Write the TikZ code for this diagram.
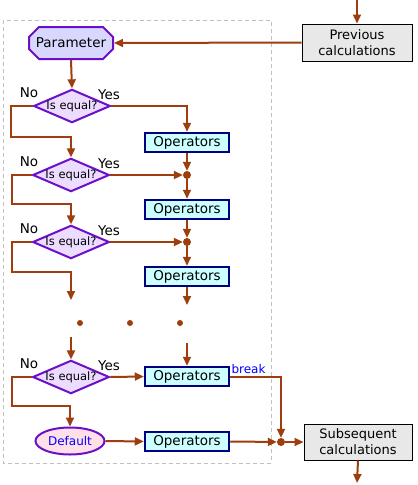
\documentclass[tikz,border=0pt]{standalone}
\usepackage{fontspec}
\setmainfont{DejaVu Sans}
\usetikzlibrary{arrows.meta,shapes.geometric,shapes.misc}
\definecolor{arrc}{RGB}{158,62,14}
\definecolor{purp}{RGB}{108,16,200}
\definecolor{parfill}{RGB}{216,216,255}
\definecolor{diafill}{RGB}{236,220,255}
\definecolor{deffill}{RGB}{255,224,232}
\definecolor{opfill}{RGB}{204,255,255}
\definecolor{opdraw}{RGB}{0,0,128}
\definecolor{calcfill}{RGB}{232,232,232}
\definecolor{frame}{RGB}{192,192,192}
\tikzset{
  arr/.style={draw=arrc, line width=2pt, -{Triangle[length=9pt,width=8pt]}},
  param/.style={chamfered rectangle, chamfered rectangle xsep=5pt, chamfered rectangle ysep=5pt, draw=purp, fill=parfill, line width=2pt, minimum width=84pt, minimum height=32pt, inner sep=0pt, font=\fontsize{13.5}{15}\selectfont},
  dia/.style={diamond, shape aspect=2.3, draw=purp, fill=diafill, line width=2pt, minimum width=74pt, minimum height=33pt, inner sep=0pt, font=\fontsize{11.5}{13}\selectfont},
  opbox/.style={rectangle, draw=opdraw, fill=opfill, line width=2.5pt, minimum width=84pt, minimum height=19pt, inner sep=0pt, font=\fontsize{13.5}{15}\selectfont},
  calc/.style={rectangle, draw=black, fill=calcfill, line width=1pt, align=center, inner sep=0pt, font=\fontsize{13}{16}\selectfont},
  defl/.style={ellipse, draw=purp, fill=deffill, line width=2pt, minimum width=69pt, minimum height=27pt, inner sep=0pt, text=blue, font=\fontsize{12}{13}\selectfont},
  lbl/.style={font=\fontsize{13.5}{15}\selectfont, inner sep=0pt},
  dot/.style={circle, fill=arrc, minimum size=8pt, inner sep=0pt},
  sdot/.style={circle, fill=arrc, minimum size=6pt, inner sep=0pt},
}
\begin{document}
\begin{tikzpicture}[x=1pt,y=-1pt]
\useasboundingbox (0,0) rectangle (418,485);
\draw[frame, dash pattern=on 4pt off 3pt, line width=1pt] (3,20) rectangle (271,463);

\node[param] (par) at (71,43) {Parameter};
\node[calc, minimum width=110pt, minimum height=37pt] (prev) at (357,42.5) {Previous\\calculations};
\node[calc, minimum width=108pt, minimum height=36pt] (sub) at (358,442) {Subsequent\\calculations};

\node[dia] (d1) at (72,106) {Is equal?};
\node[dia] (d2) at (71,175) {Is equal?};
\node[dia] (d3) at (71,242) {Is equal?};
\node[dia] (d4) at (71,377) {Is equal?};

\foreach \n/\y in {1/106,2/175,3/242,4/377}{
  \node[lbl] (no\n) at (29,\y-13) {No};
  \node[lbl] (yes\n) at (109,\y-11) {Yes};
}

\node[opbox] (op1) at (187,142.5) {Operators};
\node[opbox] (op2) at (187,209.5) {Operators};
\node[opbox] (op3) at (187,276.5) {Operators};
\node[opbox] (op4) at (187,376.5) {Operators};
\node[opbox] (op5) at (187,441.5) {Operators};

\node[defl] (def) at (70,441) {Default};

\node[dot] (j1) at (187,175) {};
\node[dot] (j2) at (187,242) {};
\node[dot] (j3) at (281,442) {};

\node[sdot] (p1) at (80,323) {};
\node[sdot] (p2) at (130,323) {};
\node[sdot] (p3) at (180,323) {};

\coordinate (top) at (357,0);
\coordinate (bot) at (357,483);
\coordinate (e3) at (187,305);
\coordinate (el) at (71,300);
\coordinate (sl) at (71,337);
\coordinate (sr) at (187,343);

\draw[arr] (top) -- (prev.north);
\draw[arr] (prev.west) -- (par.east);
\draw[arr] (par.south) -- (d1.north);
\draw[arr] (d1.west) -| (11,137) -| (d2.north);
\draw[arr] (d2.west) -| (12,204) -| (d3.north);
\draw[arr] (d3.west) -| (12,272) -| (el);
\draw[arr] (sl) -- (d4.north);
\draw[arr] (d4.west) -| (12,406) -| (def.north);

\draw[arr] (d1.east) -| (op1.north);
\draw[arr] (op1.south) -- (j1);
\draw[arr] (d2.east) -- (j1);
\draw[arr] (j1) -- (op2.north);
\draw[arr] (op2.south) -- (j2);
\draw[arr] (d3.east) -- (j2);
\draw[arr] (j2) -- (op3.north);
\draw[arr] (op3.south) -- (e3);
\draw[arr] (sr) -- (op4.north);
\draw[arr] (d4.east) -- (op4.west);
\draw[arr] (def.east) -- (op5.west);
\draw[arr] (op4.east) -| node[pos=0.18, above, text=blue, font=\fontsize{12}{13}\selectfont, inner sep=2pt] {break} (j3);
\draw[arr] (op5.east) -- (j3);
\draw[arr] (j3) -- (sub.west);
\draw[arr] (sub.south) -- (bot);
\end{tikzpicture}
\end{document}
